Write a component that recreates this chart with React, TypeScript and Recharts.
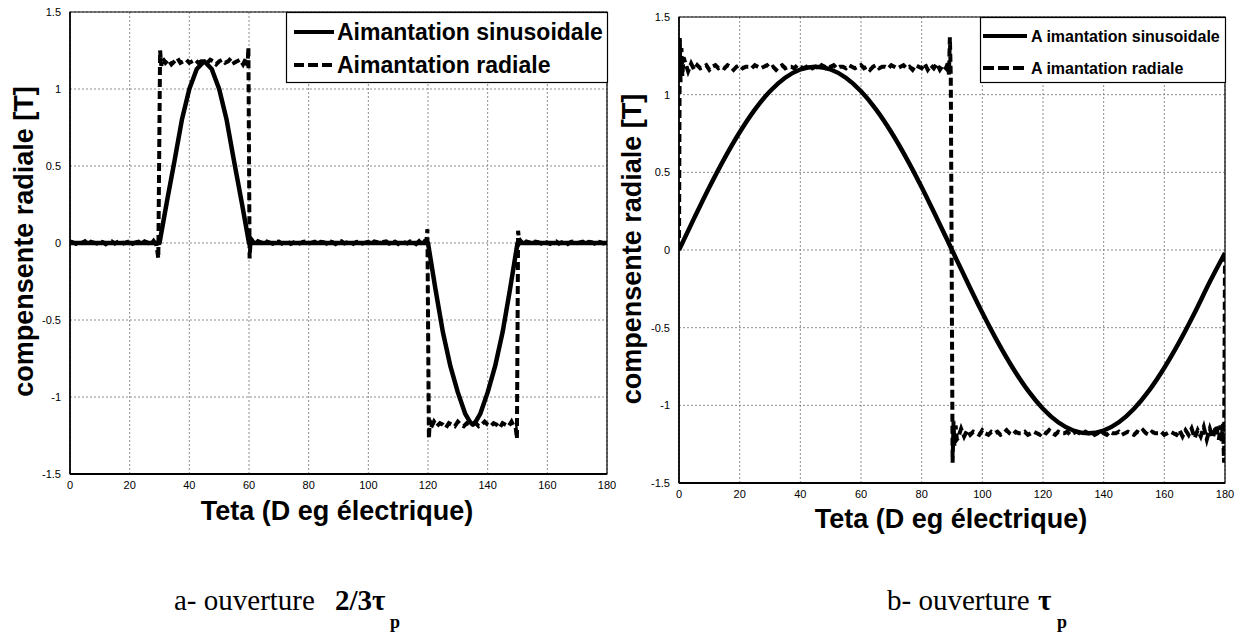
import React from 'react';
import { LineChart, Line, XAxis, YAxis, CartesianGrid, ReferenceArea } from 'recharts';

// ---------- data ----------
const X_TICKS = [0, 20, 40, 60, 80, 100, 120, 140, 160, 180];
const Y_TICKS = [-1.5, -1, -0.5, 0, 0.5, 1, 1.5];

// (a) opening 2/3 tau_p : sinusoidal magnetisation
const LEFT_SIN_THETA = [0, 30, 32.5, 35, 37.5, 40, 42.5, 45, 47.5, 50, 52.5, 55, 57.5, 60, 120, 122.5, 125, 127.5, 130, 132.5, 134, 135, 136, 137.5, 140, 142.5, 145, 147.5, 150, 180];
const LEFT_SIN_B = [0, 0, 0.27, 0.53, 0.8, 1.0, 1.13, 1.18, 1.13, 1.0, 0.8, 0.53, 0.27, 0, 0, -0.3, -0.58, -0.8, -0.97, -1.11, -1.16, -1.18, -1.16, -1.11, -0.97, -0.8, -0.58, -0.3, 0, 0];

// (a) radial magnetisation: plateaus sampled every degree + transitions
const LEFT_RAD_ZERO_A = [0.01, 0.004, -0.006, 0.01, 0.0, 0.012, -0.006, 0.008, 0.003, -0.004, 0.01, 0.006, -0.008, 0.005, 0.01, -0.004, 0.007, 0.012, -0.003, 0.006, 0.01, -0.006, 0.004, 0.009, -0.005, 0.011, 0.003, -0.01, 0.014, -0.015];
const LEFT_RAD_TOP = [1.2, 1.17, 1.19, 1.16, 1.18, 1.2, 1.17, 1.18, 1.19, 1.17, 1.18, 1.19, 1.17, 1.18, 1.18, 1.17, 1.19, 1.18, 1.16, 1.18, 1.19, 1.17, 1.18, 1.2, 1.17, 1.18, 1.19, 1.16, 1.2];
const LEFT_RAD_ZERO_B = [0.02, -0.01, 0.012, 0.004, -0.006, 0.01, 0.003, -0.005, 0.008, 0.01, -0.004, 0.006, 0.009, -0.006, 0.004, 0.011, -0.003, 0.007, 0.01, -0.005, 0.003, 0.009, -0.006, 0.008, 0.005, -0.004, 0.01, 0.006, -0.007, 0.004, 0.011, -0.003, 0.006, 0.009, -0.005, 0.007, 0.01, -0.004, 0.003, 0.008, -0.006, 0.01, 0.005, -0.004, 0.007, 0.011, -0.005, 0.004, 0.009, -0.006, 0.008, 0.005, -0.003, 0.01, 0.006, -0.008, 0.012, -0.01, 0.015];
const LEFT_RAD_BOTTOM = [-1.2, -1.16, -1.19, -1.17, -1.18, -1.2, -1.17, -1.18, -1.19, -1.16, -1.18, -1.19, -1.17, -1.18, -1.18, -1.17, -1.19, -1.18, -1.16, -1.18, -1.19, -1.17, -1.18, -1.2, -1.17, -1.18, -1.19, -1.16, -1.2];
const LEFT_RAD_ZERO_C = [0.015, -0.008, 0.01, 0.004, -0.005, 0.009, 0.006, -0.004, 0.01, 0.003, -0.006, 0.008, 0.011, -0.004, 0.005, 0.009, -0.006, 0.007, 0.01, -0.003, 0.004, 0.009, -0.005, 0.008, 0.006, -0.004, 0.01, 0.005, -0.003, 0.006];
const LEFT_RAD_EDGE_THETA = [29.6, 30.2, 30.6, 59.5, 59.8, 60.2, 60.6, 119.5, 119.8, 120.3, 120.6, 149.4, 149.8, 150.2, 150.6];
const LEFT_RAD_EDGE_B = [-0.1, 1.25, 1.15, 1.15, 1.27, -0.1, 0.03, 0.02, 0.09, -1.27, -1.15, -1.2, -1.27, 0.08, 0.0];

// (b) opening tau_p : sinusoidal magnetisation (every 5 degrees)
const RIGHT_SIN_THETA = [0, 5, 10, 15, 20, 25, 30, 35, 40, 45, 50, 55, 60, 65, 70, 75, 80, 85, 90, 95, 100, 105, 110, 115, 120, 125, 130, 135, 140, 145, 150, 155, 160, 165, 170, 175, 180];
const RIGHT_SIN_B = [0, 0.205, 0.404, 0.59, 0.758, 0.904, 1.022, 1.109, 1.162, 1.18, 1.162, 1.109, 1.022, 0.904, 0.758, 0.59, 0.404, 0.205, 0, -0.205, -0.404, -0.59, -0.758, -0.904, -1.022, -1.109, -1.162, -1.18, -1.162, -1.109, -1.022, -0.904, -0.758, -0.59, -0.404, -0.205, -0.02];

// (b) radial magnetisation
const RIGHT_RAD_TOP = [1.21, 1.15, 1.2, 1.16, 1.19, 1.17, 1.18, 1.19, 1.16, 1.18, 1.19, 1.17, 1.18, 1.17, 1.19, 1.18, 1.16, 1.18, 1.19, 1.17, 1.18, 1.18, 1.17, 1.19, 1.18, 1.17, 1.18, 1.19, 1.17, 1.18, 1.16, 1.18, 1.19, 1.17, 1.18, 1.18, 1.17, 1.19, 1.18, 1.17, 1.18, 1.19, 1.17, 1.18, 1.17, 1.19, 1.18, 1.16, 1.18, 1.19, 1.17, 1.18, 1.18, 1.17, 1.19, 1.18, 1.17, 1.18, 1.19, 1.17, 1.18, 1.16, 1.18, 1.19, 1.17, 1.18, 1.18, 1.17, 1.19, 1.18, 1.17, 1.18, 1.19, 1.17, 1.18, 1.16, 1.19, 1.18, 1.17, 1.2, 1.16, 1.19, 1.17, 1.2, 1.16, 1.19, 1.17];
const RIGHT_RAD_BOTTOM = [-1.21, -1.15, -1.2, -1.16, -1.19, -1.17, -1.18, -1.19, -1.16, -1.18, -1.19, -1.17, -1.18, -1.17, -1.19, -1.18, -1.16, -1.18, -1.19, -1.17, -1.18, -1.18, -1.17, -1.19, -1.18, -1.17, -1.18, -1.19, -1.17, -1.18, -1.16, -1.18, -1.19, -1.17, -1.18, -1.18, -1.17, -1.19, -1.18, -1.17, -1.18, -1.19, -1.17, -1.18, -1.17, -1.19, -1.18, -1.16, -1.18, -1.19, -1.17, -1.18, -1.18, -1.17, -1.19, -1.18, -1.17, -1.18, -1.19, -1.17, -1.18, -1.16, -1.18, -1.19, -1.17, -1.18, -1.18, -1.17, -1.19, -1.18, -1.17, -1.18, -1.19, -1.16, -1.2, -1.16, -1.19, -1.15, -1.21, -1.16, -1.2, -1.14, -1.22, -1.15, -1.21, -1.13, -1.22];
const RIGHT_RAD_EDGE_THETA = [0, 0.25, 0.5, 0.8, 1.1, 1.5, 88.6, 89.0, 89.3, 89.6, 90.2, 90.5, 90.8, 91.2, 91.6, 178.5, 178.9, 179.3, 179.7, 180];
const RIGHT_RAD_EDGE_B = [0, 1.37, 1.08, 1.3, 1.12, 1.24, 1.2, 1.13, 1.37, 1.12, -1.37, -1.1, -1.26, -1.13, -1.22, -1.13, -1.23, -1.12, -1.37, -0.02];

// ---------- table builders ----------
type Pt = { x: number; y: number };
const zip = (xs: number[], ys: number[]): Pt[] => xs.map((x, i) => ({ x, y: ys[i] }));
const spread = (start: number, end: number, ys: number[]): Pt[] =>
  ys.map((y, i) => ({ x: start + ((end - start) * i) / (ys.length - 1), y }));
const sortPts = (pts: Pt[]) => pts.slice().sort((a, b) => a.x - b.x);

const leftSin = zip(LEFT_SIN_THETA, LEFT_SIN_B);
const leftRad = sortPts([
  ...spread(0, 29, LEFT_RAD_ZERO_A),
  ...spread(31, 59, LEFT_RAD_TOP),
  ...spread(61, 119, LEFT_RAD_ZERO_B),
  ...spread(121, 149, LEFT_RAD_BOTTOM),
  ...spread(151, 179.8, LEFT_RAD_ZERO_C),
  ...zip(LEFT_RAD_EDGE_THETA, LEFT_RAD_EDGE_B),
]);
const rightSin = zip(RIGHT_SIN_THETA, RIGHT_SIN_B);
const rightRad = sortPts([
  ...spread(2, 88, RIGHT_RAD_TOP),
  ...spread(92, 178, RIGHT_RAD_BOTTOM),
  ...zip(RIGHT_RAD_EDGE_THETA, RIGHT_RAD_EDGE_B),
]);

const AXIS_FONT = 'Liberation Sans, Arial, sans-serif';
const SERIF = 'Liberation Serif, Times New Roman, serif';

function Panel(props: { sin: Pt[]; rad: Pt[]; width: number; height: number; yAxisWidth: number; top: number; right: number; curve: 'linear' | 'monotone' }) {
  const { sin, rad, width, height, yAxisWidth, top, right, curve } = props;
  return (
    <LineChart width={width} height={height} margin={{ top, right, bottom: 0, left: 0 }}>
      <CartesianGrid stroke="#8c8c8c" strokeDasharray="2 2" strokeWidth={1} />
      <XAxis
        type="number"
        dataKey="x"
        domain={[0, 180]}
        ticks={X_TICKS}
        allowDataOverflow
        height={30}
        tickLine={false}
        tickSize={0}
        tickMargin={7}
        axisLine={{ stroke: '#000', strokeWidth: 2 }}
        tick={{ fontSize: 11, fill: '#000', fontFamily: AXIS_FONT }}
      />
      <YAxis
        type="number"
        dataKey="y"
        domain={[-1.5, 1.5]}
        ticks={Y_TICKS}
        allowDataOverflow
        width={yAxisWidth}
        tickLine={false}
        tickSize={0}
        tickMargin={9}
        axisLine={{ stroke: '#000', strokeWidth: 1.5 }}
        tick={{ fontSize: 11, fill: '#000', fontFamily: AXIS_FONT }}
      />
      <ReferenceArea x1={0} x2={180} y1={-1.5} y2={1.5} fill="none" fillOpacity={0} stroke="#000" strokeWidth={1.2} />
      <Line data={rad} dataKey="y" type="linear" stroke="#000" strokeWidth={4} strokeDasharray="8 4" dot={false} activeDot={false} isAnimationActive={false} />
      <Line data={sin} dataKey="y" type={curve} stroke="#000" strokeWidth={4.5} strokeLinejoin="round" dot={false} activeDot={false} isAnimationActive={false} />
    </LineChart>
  );
}

export default function App() {
  return (
    <div style={{ position: 'absolute', left: 0, top: 0, width: 1248, height: 635, background: '#fff', overflow: 'hidden' }}>
      <div style={{ position: 'absolute', left: 0, top: 0 }}>
        <Panel sin={leftSin} rad={leftRad} width={620} height={504} yAxisWidth={70} top={12} right={13} curve="linear" />
      </div>
      <div style={{ position: 'absolute', left: 620, top: 0 }}>
        <Panel sin={rightSin} rad={rightRad} width={628} height={513} yAxisWidth={59} top={17} right={23} curve="monotone" />
      </div>
      <svg width={1248} height={635} style={{ position: 'absolute', left: 0, top: 0, pointerEvents: 'none' }}>
        {/* left legend */}
        <rect x={286.5} y={12.5} width={321} height={70} fill="#fff" stroke="#000" strokeWidth={1.2} />
        <line x1={294} y1={32} x2={334} y2={32} stroke="#000" strokeWidth={4} />
        <text x={337} y={40} fontFamily={AXIS_FONT} fontWeight="bold" fontSize={23} fill="#000">Aimantation sinusoidale</text>
        <line x1={294} y1={65} x2={334} y2={65} stroke="#000" strokeWidth={4} strokeDasharray="10 4" />
        <text x={337} y={73} fontFamily={AXIS_FONT} fontWeight="bold" fontSize={23} fill="#000">Aimantation radiale</text>

        {/* right legend */}
        <rect x={980.5} y={17.5} width={245} height={65} fill="#fff" stroke="#000" strokeWidth={1.2} />
        <line x1={983} y1={36} x2={1027} y2={36} stroke="#000" strokeWidth={4} />
        <text x={1031} y={41.5} fontFamily={AXIS_FONT} fontWeight="bold" fontSize={16} fill="#000">A imantation sinusoidale</text>
        <line x1={983} y1={68} x2={1027} y2={68} stroke="#000" strokeWidth={4} strokeDasharray="11 4" />
        <text x={1031} y={73.5} fontFamily={AXIS_FONT} fontWeight="bold" fontSize={16} fill="#000">A imantation radiale</text>

        {/* axis titles */}
        <text transform="translate(33,241.5) rotate(-90)" textAnchor="middle" fontFamily={AXIS_FONT} fontWeight="bold" fontSize={27} fill="#000">compensente radiale [T]</text>
        <text transform="translate(641,249) rotate(-90)" textAnchor="middle" fontFamily={AXIS_FONT} fontWeight="bold" fontSize={27} fill="#000">compensente radiale [T]</text>
        <text x={337} y={520} textAnchor="middle" fontFamily={AXIS_FONT} fontWeight="bold" fontSize={27} fill="#000">Teta (D eg électrique)</text>
        <text x={951} y={528} textAnchor="middle" fontFamily={AXIS_FONT} fontWeight="bold" fontSize={27} fill="#000">Teta (D eg électrique)</text>

        {/* captions */}
        <text x={174} y={610} fontFamily={SERIF} fontSize={29} fill="#000">a- ouverture</text>
        <text x={335} y={610} fontFamily={SERIF} fontSize={29} fontWeight="bold" fill="#000">2/3τ</text>
        <text x={390} y={628} fontFamily={SERIF} fontSize={18} fontWeight="bold" fill="#000">p</text>
        <text x={887} y={610} fontFamily={SERIF} fontSize={29} fill="#000">b- ouverture</text>
        <text x={1038} y={610} fontFamily={SERIF} fontSize={29} fontWeight="bold" fill="#000">τ</text>
        <text x={1057} y={628} fontFamily={SERIF} fontSize={18} fontWeight="bold" fill="#000">p</text>
      </svg>
    </div>
  );
}
